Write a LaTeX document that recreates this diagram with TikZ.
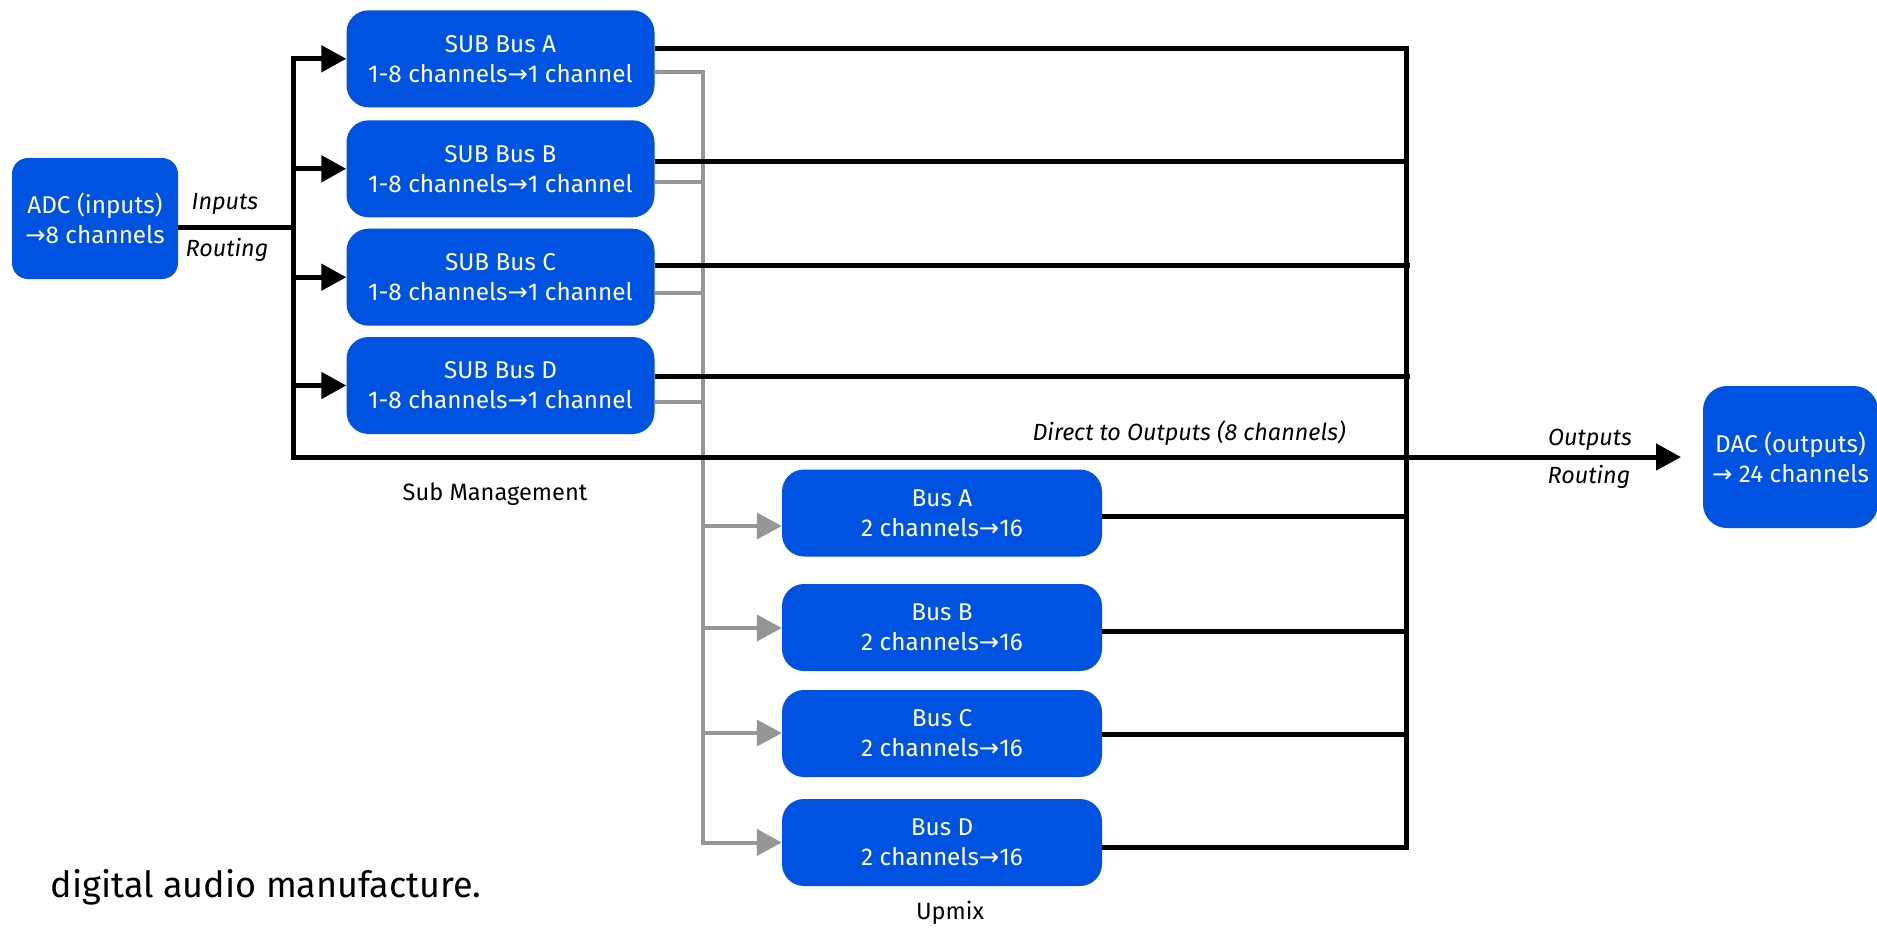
\documentclass[tikz,border=0pt]{standalone}
\usepackage{fontspec}
\setmainfont{Fira Sans}
\newfontfamily\arrfont{DejaVu Sans}
\usetikzlibrary{arrows.meta}
\definecolor{boxblue}{RGB}{0,82,224}
\definecolor{wiregray}{RGB}{150,150,150}
\newcommand{\myarrow}{{\arrfont →}}
\begin{document}
\begin{tikzpicture}[x=1pt,y=-1pt,
  box/.style={fill=boxblue, draw=none, rounded corners=22pt, text=white, align=center, inner sep=0pt, font=\fontsize{24.3}{30}\selectfont},
  wire/.style={line width=5pt, draw=black},
  gwire/.style={line width=4pt, draw=wiregray},
  tip/.style={-{Triangle[length=25pt,width=26pt]}},
  lbl/.style={font=\fontsize{23.4}{28}\selectfont\itshape, inner sep=0pt},
  plain/.style={font=\fontsize{23.6}{28}\selectfont, inner sep=0pt},
  big/.style={font=\fontsize{36}{40}\selectfont, inner sep=0pt},
]
\useasboundingbox (0,0) rectangle (1877,927);

% nodes
\node[box, minimum width=166pt, minimum height=121pt, rounded corners=16pt] (adc) at (95,218.5) {ADC (inputs)\\\myarrow8 channels};
\node[box, minimum width=308pt, minimum height=97pt] (subA) at (500.5,58.8) {SUB Bus A\\1-8 channels\myarrow1 channel};
\node[box, minimum width=308pt, minimum height=97pt] (subB) at (500.5,168.8) {SUB Bus B\\1-8 channels\myarrow1 channel};
\node[box, minimum width=308pt, minimum height=97pt] (subC) at (500.5,277.2) {SUB Bus C\\1-8 channels\myarrow1 channel};
\node[box, minimum width=308pt, minimum height=97pt] (subD) at (500.5,385.5) {SUB Bus D\\1-8 channels\myarrow1 channel};
\node[box, minimum width=320pt, minimum height=87pt] (busA) at (942,513) {Bus A\\2 channels\myarrow16};
\node[box, minimum width=320pt, minimum height=87pt] (busB) at (942,627.5) {Bus B\\2 channels\myarrow16};
\node[box, minimum width=320pt, minimum height=87pt] (busC) at (942,733.5) {Bus C\\2 channels\myarrow16};
\node[box, minimum width=320pt, minimum height=87pt] (busD) at (942,842.5) {Bus D\\2 channels\myarrow16};
\node[box, minimum width=175pt, minimum height=142pt, rounded corners=24pt] (dac) at (1790.5,457) {DAC (outputs)\\\myarrow{} 24 channels};

% labels
\node[lbl] (inl) at (225,204) {Inputs};
\node[lbl] (rtl) at (227,250) {Routing};
\node[lbl] (dir) at (1189,433) {Direct to Outputs (8 channels)};
\node[lbl] (outl) at (1590,440) {Outputs};
\node[lbl] (rt2) at (1589,477) {Routing};
\node[plain] (subm) at (495,494) {Sub Management};
\node[plain] (upm) at (950,913) {Upmix};
\node[big] (dig) at (266,887) {digital audio manufacture.};

% coordinates
\coordinate (jin) at (293,227);
\coordinate (dacin) at (1681,457);
\coordinate (rA) at (1406,48);
\coordinate (rB) at (1406,161);
\coordinate (rC) at (1410,265);
\coordinate (rD) at (1410,376);
\coordinate (rE) at (1406,516);
\coordinate (rF) at (1406,631);
\coordinate (rG) at (1406,734);
\coordinate (rH) at (1406,847);
\coordinate (gA) at (703,72);
\coordinate (gB) at (703,182);
\coordinate (gC) at (703,293);
\coordinate (gD) at (703,402);
\coordinate (gE) at (703,526);
\coordinate (gF) at (703,628);
\coordinate (gG) at (703,733);
\coordinate (gH) at (703,842.5);

% gray sub -> upmix wiring
\draw[gwire] (subA.east |- gA) -- (gA);
\draw[gwire] (subB.east |- gB) -- (gB);
\draw[gwire] (subC.east |- gC) -- (gC);
\draw[gwire] (subD.east |- gD) -- (gD);
\draw[gwire, -{Triangle[length=25pt,width=26pt]}] (703,70) -- (gH) -- (busD.west);
\draw[gwire, -{Triangle[length=25pt,width=26pt]}] (gE) -- (busA.west |- gE);
\draw[gwire, -{Triangle[length=25pt,width=26pt]}] (gF) -- (busB.west |- gF);
\draw[gwire, -{Triangle[length=25pt,width=26pt]}] (gG) -- (busC.west |- gG);

% black input wiring
\draw[wire] (adc.east |- jin) -- (jin);
\draw[wire, {Triangle[length=25pt,width=26pt]}-{Triangle[length=25pt,width=26pt]}] (subA.west) -- (subA.west -| jin) -- (293,457) -- (dacin);
\draw[wire, tip] (subB.west -| jin) -- (subB.west);
\draw[wire, tip] (subC.west -| jin) -- (subC.west);
\draw[wire, tip] (subD.west -| jin) -- (subD.west);

% black output wiring
\draw[wire] (subA.east |- rA) -- (rA);
\draw[wire] (subB.east |- rB) -- (rB);
\draw[wire] (subC.east |- rC) -- (rC);
\draw[wire] (subD.east |- rD) -- (rD);
\draw[wire] (busA.east |- rE) -- (rE);
\draw[wire] (busB.east |- rF) -- (rF);
\draw[wire] (busC.east |- rG) -- (rG);
\draw[wire] (busD.east |- rH) -- (rH);
\draw[wire] (1406,45.5) -- (1406,849.5);
\end{tikzpicture}
\end{document}
